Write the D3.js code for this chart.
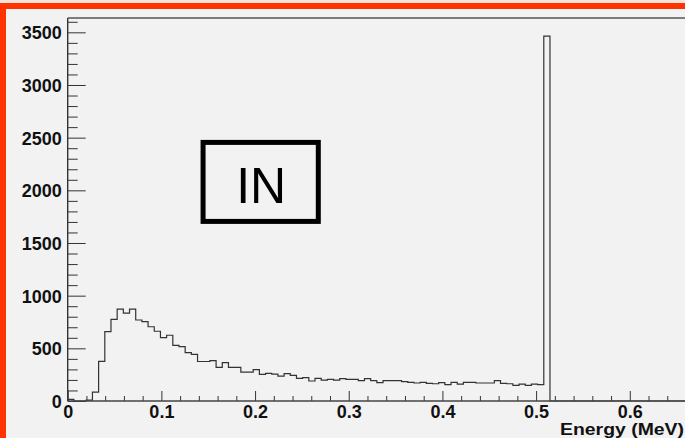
<!DOCTYPE html>
<html>
<head>
<meta charset="utf-8">
<script src="https://cdn.jsdelivr.net/npm/d3@7"></script>
<style>
  body { margin: 0; background: #f2f2f2; }
  svg { display: block; }
</style>
</head>
<body>
<svg id="chart" width="685" height="438"></svg>
<script>
//histogram settings: 100 bins from 0 to 0.66 MeV
var xMin = 0;
var xMax = 0.66;
var nBins = 100;

//counts per bin
var counts = [
  16, 0, 0, 8, 85, 377, 658, 775, 873, 835,
  873, 769, 753, 705, 662, 601, 624, 529, 517, 460,
  443, 375, 375, 383, 320, 364, 320, 320, 275, 275,
  297, 253, 263, 256, 237, 259, 244, 215, 221, 190,
  215, 199, 206, 199, 212, 206, 206, 193, 212, 193,
  174, 193, 193, 193, 183, 177, 171, 177, 168, 164,
  174, 155, 177, 161, 177, 177, 171, 171, 171, 193,
  168, 164, 149, 161, 149, 161, 155, 3463, 0, 0,
  0, 0, 0, 0, 0, 0, 0, 0, 0, 0,
  0, 0, 0, 0, 0, 0, 0, 0, 0, 0
];

var xMajorTicks = [0, 0.1, 0.2, 0.3, 0.4, 0.5, 0.6];
var yMajorTicks = [0, 500, 1000, 1500, 2000, 2500, 3000, 3500];
var yMax = 3636;
var xTitle = "Energy (MeV)";
var boxLabel = "IN";

var svg = d3.select("#chart");
var W = 685, H = 438;
//plot frame in pixels ("top" is reserved on window, so use other names)
var padLeft = 67.7, padTop = 18, padBottom = 401;
var font = "Liberation Sans, Arial, sans-serif";

var x = d3.scaleLinear().domain([xMin, xMax]).range([padLeft, 686]);
var y = d3.scaleLinear().domain([0, yMax]).range([padBottom, padTop]);

//page background and the orange frame on the left / top
svg.append("rect").attr("width", W).attr("height", H).attr("fill", "#f2f2f2");
svg.append("rect").attr("width", W).attr("height", 3).attr("fill", "#f7e2dc");
svg.append("rect").attr("y", 3).attr("width", W).attr("height", 6).attr("fill", "#ff3300");
svg.append("rect").attr("y", 3).attr("width", 6).attr("height", H).attr("fill", "#ff3300");

//histogram outline
var binW = (xMax - xMin) / nBins;
var pts = counts.map(function(c, i) {
  return [xMin + i * binW, c];
});
pts.push([xMax, counts[counts.length - 1]]);

svg.append("path")
  .datum(pts)
  .attr("fill", "none")
  .attr("stroke", "#333")
  .attr("stroke-width", 1.2)
  .attr("d", d3.line()
    .x(function(d) { return x(d[0]); })
    .y(function(d) { return y(d[1]); })
    .curve(d3.curveStepAfter));

//annotation box
var box = { x0: 0.1445, x1: 0.2675, y0: 2455, y1: 1705 };
svg.append("rect")
  .attr("x", x(box.x0))
  .attr("y", y(box.y0))
  .attr("width", x(box.x1) - x(box.x0))
  .attr("height", y(box.y1) - y(box.y0))
  .attr("fill", "none")
  .attr("stroke", "#000")
  .attr("stroke-width", 5);
svg.append("text")
  .attr("x", x((box.x0 + box.x1) / 2) + 0.5)
  .attr("y", y(box.y1) - 18.5)
  .attr("text-anchor", "middle")
  .attr("font-family", font)
  .attr("font-size", 50)
  .attr("fill", "#000")
  .text(boxLabel);

//same look for all tick labels
function styleLabels(g) {
  g.select(".domain").remove();
  g.selectAll("line").attr("stroke", "#333");
  g.selectAll("text")
    .attr("font-family", font)
    .attr("font-weight", "bold")
    .attr("font-size", 18)
    .attr("fill", "#111");
};

//y axis: major ticks with labels, minor ticks every 100
var yMinor = d3.range(1, 37).map(function(i) { return i * 100; })
  .filter(function(v) { return v % 500 != 0; });

svg.append("g")
  .attr("transform", "translate(" + padLeft + ",0)")
  .call(d3.axisLeft(y).tickValues(yMinor).tickSizeInner(-10).tickSizeOuter(0).tickFormat(""))
  .call(styleLabels);

svg.append("g")
  .attr("transform", "translate(" + padLeft + ",0)")
  .call(d3.axisLeft(y).tickValues(yMajorTicks).tickSizeInner(-18).tickSizeOuter(0).tickPadding(6)
    .tickFormat(d3.format("d")))
  .call(styleLabels)
  .call(function(g) { g.selectAll("text").attr("dy", "0.36em"); });

//x axis: majors every 0.1, minors every 0.02
var xMinor = d3.range(1, 34).map(function(i) { return i * 0.02; })
  .filter(function(v) { return Math.abs(v * 10 - Math.round(v * 10)) > 1e-6; });

svg.append("g")
  .attr("transform", "translate(0," + padBottom + ")")
  .call(d3.axisBottom(x).tickValues(xMinor).tickSizeInner(-5).tickSizeOuter(0).tickFormat(""))
  .call(styleLabels);

svg.append("g")
  .attr("transform", "translate(0," + padBottom + ")")
  .call(d3.axisBottom(x).tickValues(xMajorTicks).tickSizeInner(-10).tickSizeOuter(0).tickPadding(4)
    .tickFormat(function(d) { return d === 0 ? "0" : d3.format(".1f")(d); }))
  .call(styleLabels);

//frame lines
svg.append("line")
  .attr("x1", padLeft).attr("x2", padLeft).attr("y1", padTop).attr("y2", padBottom)
  .attr("stroke", "#333").attr("stroke-width", 1.4);
svg.append("line")
  .attr("x1", padLeft).attr("x2", W).attr("y1", padTop).attr("y2", padTop)
  .attr("stroke", "#555").attr("stroke-width", 1.4);
svg.append("line")
  .attr("x1", padLeft).attr("x2", W).attr("y1", padBottom).attr("y2", padBottom)
  .attr("stroke", "#444").attr("stroke-width", 1.4);

//axis title, right aligned
svg.append("text")
  .attr("x", 684)
  .attr("y", 435)
  .attr("text-anchor", "end")
  .attr("font-family", font)
  .attr("font-weight", "bold")
  .attr("font-size", 17)
  .attr("textLength", 124)
  .attr("lengthAdjust", "spacingAndGlyphs")
  .attr("fill", "#111")
  .text(xTitle);
</script>
</body>
</html>
